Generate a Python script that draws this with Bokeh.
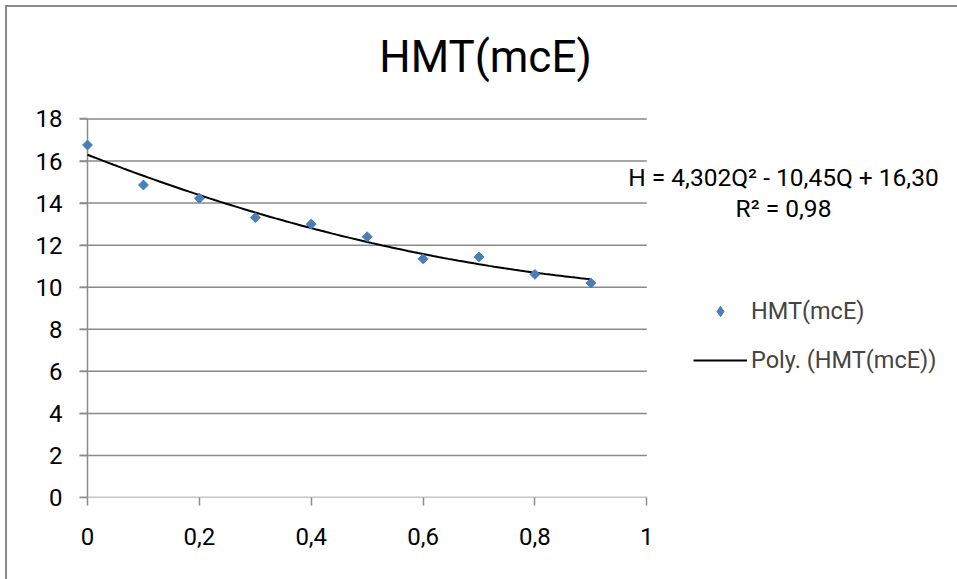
from bokeh.plotting import figure
from bokeh.models import Range1d, FixedTicker, CustomJSTickFormatter, Legend, LegendItem, Label, ColumnDataSource
from bokeh.embed import file_html
from bokeh.resources import INLINE
import numpy as np

# data
q_values = [0.0, 0.1, 0.2, 0.3, 0.4, 0.5, 0.6, 0.7, 0.8, 0.9]
h_values = [16.76, 14.86, 14.23, 13.31, 13.0, 12.40, 11.35, 11.44, 10.61, 10.2]
trend_coeffs = [4.302, -10.45, 16.30]
x_ticks = [0, 0.2, 0.4, 0.6, 0.8, 1.0]
y_ticks = [0, 2, 4, 6, 8, 10, 12, 14, 16, 18]
title_text = "HMT(mcE)"
series_name = "HMT(mcE)"
trend_name = "Poly. (HMT(mcE))"
eq_line1 = "H = 4,302Q\u00b2 - 10,45Q + 16,30"
eq_line2 = "R\u00b2 = 0,98"

FONT = "Roboto"
GRID = "#8a8a8a"
BLUE = "#4A7EBB"

W, H = 952, 574          # element size (content 950 x 572 after 2px border)
CW, CH = 950, 572
AXIS_L, AXIS_R = 72, 638      # canvas px of the plot area edges (incl. 8px tick stub on the left)
AXIS_T, AXIS_B = 111, 488
x_min, x_max = x_ticks[0], x_ticks[-1]
y_min, y_max = y_ticks[0], y_ticks[-1]
px_x = (AXIS_R - AXIS_L - 8) / (x_max - x_min)
px_y = (AXIS_B - AXIS_T) / (y_max - y_min)
x_start = x_min - 8.0 / px_x
x_end = x_start + (CW - AXIS_L) / px_x
y_end = y_max + AXIS_T / px_y

p = figure(width=W, height=H, output_backend="svg", toolbar_location=None,
           x_range=Range1d(x_start, x_end), y_range=Range1d(y_min, y_end),
           min_border_left=AXIS_L, min_border_right=0,
           min_border_top=0, min_border_bottom=CH - AXIS_B)
p.outline_line_color = None
p.background_fill_color = "white"
p.border_fill_color = "white"
p.xgrid.grid_line_color = None
p.ygrid.grid_line_color = None

# horizontal gridlines over the plotted x span only
p.segment(x0=x_start, y0=y_ticks, x1=x_max, y1=y_ticks, line_color=GRID, line_width=1.5)
# vertical value axis line at x = 0
p.segment(x0=[x_min], y0=[y_min], x1=[x_min], y1=[y_max], line_color=GRID, line_width=1.5)

p.xaxis.ticker = FixedTicker(ticks=x_ticks)
p.yaxis.ticker = FixedTicker(ticks=y_ticks)
p.xaxis.formatter = CustomJSTickFormatter(code="return (Math.round(tick*10)/10).toString().replace('.', ',');")
p.yaxis.formatter = CustomJSTickFormatter(code="return tick.toString();")
for ax in (p.xaxis[0], p.yaxis[0]):
    ax.axis_line_color = None
    ax.major_tick_line_color = GRID
    ax.major_tick_line_width = 1.5
    ax.minor_tick_line_color = None
    ax.major_label_text_font = FONT
    ax.major_label_text_font_size = "24px"
    ax.major_label_text_color = "black"
p.xaxis.major_tick_in = 0
p.xaxis.major_tick_out = 8
p.xaxis.major_label_standoff = 22
p.yaxis.major_tick_in = 8
p.yaxis.major_tick_out = 0
p.yaxis.major_label_standoff = 17

# trendline from reported coefficients
qq = np.linspace(q_values[0], q_values[-1], 100)
hh = np.polyval(trend_coeffs, qq)
r_line = p.line(qq, hh, line_color="black", line_width=2)

r_pts = p.scatter(q_values, h_values, marker="square", angle=np.pi / 4, size=7,
                  fill_color=BLUE, line_color=BLUE)
# legend key: a diamond glyph with no drawable point (NaN), shown only in the legend
key_src = ColumnDataSource(data=dict(q=[np.nan], h=[np.nan]))
r_key = p.scatter("q", "h", source=key_src, marker="diamond", size=11,
                  fill_color=BLUE, line_color=BLUE)

legend = Legend(items=[LegendItem(label=series_name, renderers=[r_key]),
                       LegendItem(label=trend_name, renderers=[r_line])],
                location=(614, 123), padding=0, margin=0, border_line_color=None,
                background_fill_alpha=0, glyph_width=54, glyph_height=26, label_height=26,
                spacing=21, label_standoff=4, label_text_font=FONT, label_text_font_size="23.5px")
p.add_layout(legend, "center")

p.add_layout(Label(x=406, y=441, x_units="screen", y_units="screen", text=title_text,
                   text_align="center", text_baseline="middle", text_font=FONT,
                   text_font_size="44px", text_color="black"))
for txt, yy in ((eq_line1, 320), (eq_line2, 289)):
    p.add_layout(Label(x=704, y=yy, x_units="screen", y_units="screen", text=txt,
                       text_align="center", text_baseline="middle", text_font=FONT,
                       text_font_size="24.5px", text_color="black"))

p.styles = {"margin-left": "5px", "margin-top": "5px",
            "border-left": "2px solid #8a8a8a", "border-top": "2px solid #8a8a8a",
            "box-sizing": "border-box"}

open("out.html", "w").write(file_html(p, INLINE))
